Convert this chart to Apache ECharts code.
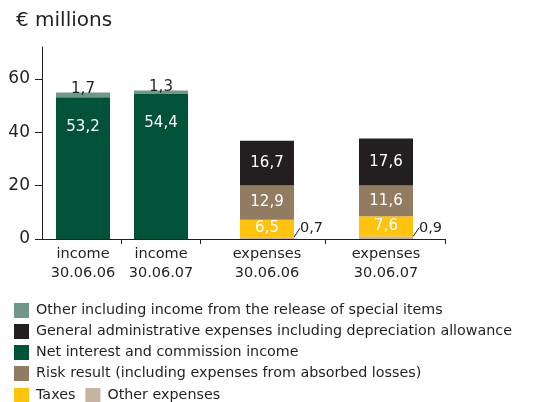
<!DOCTYPE html>
<html><head><meta charset="utf-8">
<script src="https://cdn.jsdelivr.net/npm/echarts@6/dist/echarts.min.js"></script>
<style>html,body{margin:0;padding:0;background:#fff}#c{width:547px;height:402px}</style>
</head><body><div id="c"></div>
<script>
// ---- data ----
const categories = ['income\n30.06.06', 'income\n30.06.07', 'expenses\n30.06.06', 'expenses\n30.06.07'];
const netInterest   = [53.2, 54.4, null, null];
const otherIncome   = [1.7, 1.3, null, null];
const otherExpenses = [null, null, 0.7, 0.9];
const taxes         = [null, null, 6.5, 7.6];
const riskResult    = [null, null, 12.9, 11.6];
const generalAdmin  = [null, null, 16.7, 17.6];
const yTicks = [0, 20, 40, 60];
const seriesNames = {
  otherIncome: 'Other including income from the release of special items',
  generalAdmin: 'General administrative expenses including depreciation allowance',
  netInterest: 'Net interest and commission income',
  riskResult: 'Risk result (including expenses from absorbed losses)',
  taxes: 'Taxes',
  otherExpenses: 'Other expenses'
};

// ---- layout (pixel-unit x scale) ----
const catCenters = [41, 119, 225, 344];
const catBounds = [79, 158, 283, 403];

const fmt = v => String(v).replace('.', ',');
// value first, position second -> stacking happens on the value dimension
const toData = arr => arr.map((v, i) => [v == null ? '-' : v, catCenters[i]]);
const txt = '#231f20';
const font = 'DejaVu Sans, sans-serif';

function bar(name, arr, color, label) {
  return {
    name, type: 'bar', stack: 'total', barWidth: 54,
    encode: { x: 1, y: 0 },
    data: toData(arr), itemStyle: { color },
    label: Object.assign({
      show: true, fontSize: 15, fontFamily: font,
      formatter: p => (p.value[0] === '-' || p.value[0] == null) ? '' : fmt(p.value[0])
    }, label)
  };
}

const chart = echarts.init(document.getElementById('c'));
const s = [
  bar(seriesNames.netInterest, netInterest, '#02523a', { position: 'insideTop', distance: 22, color: '#fff' }),
  bar(seriesNames.otherIncome, otherIncome, '#71978a', { position: 'top', distance: -4, color: txt }),
  bar(seriesNames.otherExpenses, otherExpenses, '#c4b4a1', { position: 'right', distance: 5, color: txt, fontSize: 14.5 }),
  bar(seriesNames.taxes, taxes, '#fdc30f', { position: 'inside', color: '#fff' }),
  bar(seriesNames.riskResult, riskResult, '#917c62', { position: 'inside', color: '#fff' }),
  bar(seriesNames.generalAdmin, generalAdmin, '#231f20', { position: 'inside', color: '#fff' })
];
s[2].labelLayout = { dx: 1, dy: -10 };
s[2].labelLine = { show: true, lineStyle: { color: txt, width: 1 } };

const legendCommon = {
  left: 14, padding: 0, icon: 'rect', itemWidth: 15, itemHeight: 15,
  textStyle: { fontSize: 14.3, lineHeight: 15, color: txt, fontFamily: font, padding: [0, 0, 0, 2] },
  selectedMode: false
};

chart.setOption({
  animation: false,
  title: { text: '€ millions', left: 11, top: 6, textStyle: { fontSize: 20, fontWeight: 'normal', color: txt, fontFamily: font } },
  grid: { left: 36, width: 409, top: 47, height: 192 },
  legend: [
    Object.assign({}, legendCommon, { top: 303, orient: 'vertical', itemGap: 6,
      data: [seriesNames.otherIncome, seriesNames.generalAdmin, seriesNames.netInterest, seriesNames.riskResult] }),
    Object.assign({}, legendCommon, { top: 388, orient: 'horizontal', itemGap: 10,
      data: [seriesNames.taxes, seriesNames.otherExpenses] })
  ],
  xAxis: {
    type: 'value', min: -6, max: 403,
    splitLine: { show: false },
    axisLine: { show: true, lineStyle: { color: txt, width: 1 } },
    axisTick: { show: true, length: 5, customValues: catBounds, lineStyle: { color: txt } },
    axisLabel: {
      customValues: catCenters, margin: 6, fontSize: 14.5, lineHeight: 19, color: txt, fontFamily: font,
      formatter: v => categories[catCenters.indexOf(v)] || ''
    }
  },
  yAxis: {
    type: 'value', min: 0, max: 72,
    splitLine: { show: false },
    axisLine: { show: true, onZero: true, lineStyle: { color: txt, width: 1 } },
    axisTick: { show: true, length: 7, customValues: yTicks, lineStyle: { color: txt } },
    axisLabel: { customValues: yTicks, margin: 6, fontSize: 17, color: txt, fontFamily: font }
  },
  series: s
});
</script></body></html>
